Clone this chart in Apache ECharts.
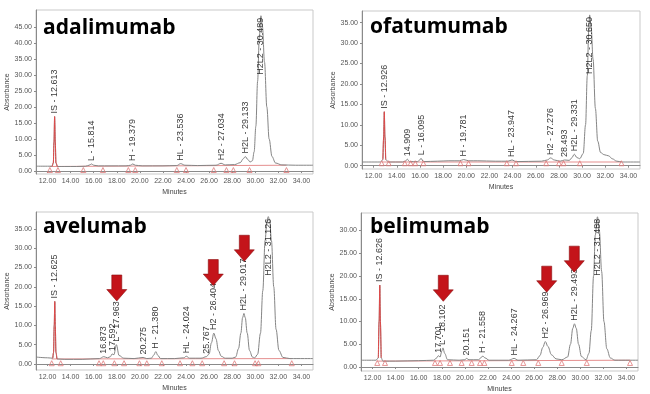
<!DOCTYPE html>
<html><head><meta charset="utf-8">
<script src="https://cdn.jsdelivr.net/npm/echarts@6/dist/echarts.min.js"></script>
<style>html,body{margin:0;padding:0;background:#fff}#c{width:650px;height:394px}</style>
</head><body><div id="c"></div>
<script>
// ---------------- DATA ----------------
const titles = ['adalimumab', 'ofatumumab', 'avelumab', 'belimumab'];
const xTicks = [12, 14, 16, 18, 20, 22, 24, 26, 28, 30, 32, 34];
const yTicks1 = [0, 5, 10, 15, 20, 25, 30, 35, 40, 45];
const yTicks2 = [0, 5, 10, 15, 20, 25, 30, 35];
const yTicks3 = [0, 5, 10, 15, 20, 25, 30, 35];
const yTicks4 = [0, 5, 10, 15, 20, 25, 30];

// chromatogram traces [minutes, absorbance]
const trace1 = [[11.0,1.5],[12.0,1.5],[12.4,1.5],[12.5,2.5],[12.56,9],[12.613,17.0],[12.67,9],[12.73,2.5],[12.85,1.4],[13.5,1.4],[14.5,1.4],[15.3,1.5],[15.6,1.8],[15.814,2.2],[16.0,1.8],[16.4,1.6],[17.5,1.6],[18.8,1.6],[19.2,1.8],[19.379,2.2],[19.6,1.8],[20.2,1.6],[22.0,1.6],[23.2,1.7],[23.536,2.3],[23.9,1.8],[25.0,1.7],[26.6,1.8],[27.034,2.4],[27.4,1.9],[28.2,2.0],[28.7,2.6],[28.95,3.8],[29.133,4.5],[29.35,3.6],[29.55,2.8],[29.75,3.2],[29.9,6],[30.05,14],[30.2,28],[30.35,42],[30.489,48.5],[30.62,45],[30.8,34],[31.0,20],[31.2,10],[31.45,4.5],[31.75,2.5],[32.3,1.9],[33.5,1.8],[35.0,1.8]];
const trace2 = [[11.0,0.9],[12.6,0.9],[12.8,1.5],[12.87,7],[12.926,13.2],[12.98,7],[13.05,1.5],[13.3,0.9],[14.5,0.9],[14.75,1.1],[14.909,1.6],[15.1,1.0],[15.8,1.0],[15.95,1.3],[16.095,1.8],[16.3,1.0],[17.5,1.1],[18.5,1.2],[19.4,1.2],[19.781,1.5],[20.2,1.2],[21.0,1.2],[22.5,1.1],[23.6,1.1],[23.947,1.4],[24.3,1.0],[26.5,1.1],[27.0,1.4],[27.276,1.9],[27.6,1.4],[28.1,1.1],[28.493,1.4],[28.9,1.3],[29.1,1.9],[29.331,2.8],[29.55,2.0],[29.8,1.7],[30.1,3],[30.3,10],[30.45,22],[30.57,33],[30.65,36.9],[30.78,34],[30.95,26],[31.15,14],[31.35,6],[31.6,3.2],[31.9,2.7],[32.3,2.4],[32.6,1.7],[33.0,1.1],[33.5,0.9],[35.0,0.9]];
const trace3 = [[11.0,1.8],[12.0,1.6],[12.45,1.5],[12.52,3],[12.58,10],[12.625,16.2],[12.67,10],[12.73,3],[12.82,1.3],[13.5,1.2],[15.0,1.2],[16.5,1.4],[16.873,1.9],[17.2,1.6],[17.45,1.9],[17.592,2.6],[17.75,2.4],[17.963,5.0],[18.2,2.2],[18.6,1.5],[19.5,1.4],[20.275,1.7],[20.6,1.4],[21.0,1.5],[21.2,2.3],[21.38,3.2],[21.56,2.2],[21.8,1.4],[23.0,1.4],[23.8,1.6],[24.024,2.0],[24.3,1.5],[25.3,1.5],[25.767,1.9],[26.0,2.6],[26.2,5.5],[26.404,8.0],[26.6,6.5],[26.8,3.5],[27.05,2.0],[27.4,1.5],[28.0,1.5],[28.3,1.8],[28.55,4],[28.75,8],[28.9,12],[29.017,13.1],[29.13,12],[29.3,8],[29.5,3.5],[29.75,1.8],[29.95,1.6],[30.2,2.5],[30.45,8],[30.65,19],[30.85,32],[31.0,37],[31.126,38.2],[31.25,37],[31.4,32],[31.6,20],[31.8,9],[32.05,3.5],[32.4,1.7],[33.0,1.4],[35.0,1.4]];
const trace4 = [[11.0,1.5],[12.3,1.5],[12.5,2],[12.57,10],[12.626,18.0],[12.68,10],[12.75,2],[12.9,1.3],[14.0,1.3],[16.0,1.4],[17.3,1.5],[17.55,2.0],[17.701,2.5],[17.85,2.2],[18.0,3.5],[18.102,4.2],[18.25,3.0],[18.5,1.6],[19.5,1.5],[20.0,1.6],[20.151,1.9],[20.35,1.6],[21.2,1.6],[21.4,2.1],[21.558,2.4],[21.75,2.0],[22.1,1.5],[23.8,1.5],[24.267,1.9],[24.6,1.5],[26.2,1.6],[26.5,2.5],[26.75,4.3],[26.969,5.6],[27.2,4.5],[27.5,2.7],[27.9,1.8],[28.4,1.6],[28.9,2.2],[29.15,5],[29.35,8.5],[29.493,9.5],[29.65,8.5],[29.85,5],[30.1,2.3],[30.5,1.6],[30.75,3],[30.95,8],[31.15,20],[31.3,29],[31.488,33.0],[31.65,30],[31.85,21],[32.05,10],[32.3,4],[32.6,2],[33.0,1.5],[35.0,1.5]];

// peak annotations
const peakNames1 = ['IS','L','H','HL','H2','H2L','H2L2'];
const peakTimes1 = [12.613,15.814,19.379,23.536,27.034,29.133,30.489];
const peakNames2 = ['IS','','L','H','HL','H2','','H2L','H2L2'];
const peakTimes2 = [12.926,14.909,16.095,19.781,23.947,27.276,28.493,29.331,30.650];
const peakNames3 = ['IS','','','L','','H','HL','','H2','H2L','H2L2'];
const peakTimes3 = [12.625,16.873,17.592,17.963,20.275,21.380,24.024,25.767,26.404,29.017,31.126];
const peakNames4 = ['IS','','L','','H','HL','H2','H2L','H2L2'];
const peakTimes4 = [12.626,17.701,18.102,20.151,21.558,24.267,26.969,29.493,31.488];

// integration marks (peak start / end)
const marks1 = [12.2,12.9,15.1,16.8,19.0,19.6,23.2,24.0,26.4,27.5,28.1,29.5,32.7];
const marks2 = [12.7,13.3,14.7,15.2,15.6,16.3,19.5,20.2,23.5,24.3,26.9,28.0,28.4,29.8,33.4];
const marks3 = [12.36,13.14,16.46,16.83,17.79,18.63,19.96,20.6,21.9,23.48,24.55,25.4,27.3,28.2,29.98,30.27,33.16];
const marks4 = [12.41,13.08,17.41,17.85,18.71,19.72,20.59,21.31,21.69,24.06,25.06,26.36,28.39,30.56,34.31];
const marksY = [0.3, 0.6, 0.2, 0.9];

// integration baselines
const base1 = [[12.2,1.4],[32.7,1.8]];
const base2 = [[12.7,0.9],[33.4,0.9]];
const base3 = [[12.36,1.3],[33.16,1.4]];
const base4 = [[12.41,1.3],[34.31,1.5]];

// highlighted peaks (arrows), [minutes, absorbance at arrow centre]
const arrows3 = [[18.0,19.7],[26.36,23.7],[29.05,30.0]];
const arrows4 = [[18.13,17.3],[27.09,19.3],[29.48,23.7]];

// ---------------- LAYOUT ----------------
const panels = [
  {title: titles[0], trace: trace1, names: peakNames1, times: peakTimes1, marks: marks1, my: marksY[0], base: base1, arrows: [], yTicks: yTicks1, ymin: -0.94, ymax: 50.3, grid: {left: 36, top: 10, width: 277, height: 164}, tl: 43, tt: 18},
  {title: titles[1], trace: trace2, names: peakNames2, times: peakTimes2, marks: marks2, my: marksY[1], base: base2, arrows: [], yTicks: yTicks2, ymin: -0.81, ymax: 37.86, grid: {left: 362, top: 11, width: 278, height: 158}, tl: 370, tt: 17},
  {title: titles[2], trace: trace3, names: peakNames3, times: peakTimes3, marks: marks3, my: marksY[2], base: base3, arrows: arrows3, yTicks: yTicks3, ymin: -1.56, ymax: 39.4, grid: {left: 36, top: 212, width: 277, height: 158}, tl: 43, tt: 217},
  {title: titles[3], trace: trace4, names: peakNames4, times: peakTimes4, marks: marks4, my: marksY[3], base: base4, arrows: arrows4, yTicks: yTicks4, ymin: -0.87, ymax: 33.84, grid: {left: 361, top: 213, width: 277, height: 160}, tl: 370, tt: 217}
];

const FONT = 'Liberation Sans, Arial, sans-serif';
const grids = [], xAxes = [], yAxes = [], series = [], titleOpts = [];
const arrowPath = 'path://M5,0 L15,0 L15,14 L20,14 L10,25 L0,14 L5,14 Z';

function apexAt(trace, t) {
  let best = trace[0], bd = Infinity;
  trace.forEach(p => { const d = Math.abs(p[0] - t); if (d < bd) { bd = d; best = p; } });
  return best[1];
}

panels.forEach((p, i) => {
  grids.push(Object.assign({show: true, borderColor: '#c9c9c9', borderWidth: 1, containLabel: false}, p.grid));
  titleOpts.push({text: p.title, left: p.tl, top: p.tt, padding: 0,
    textStyle: {fontFamily: 'Open Sans, sans-serif', fontWeight: 'bold', fontSize: 21, color: '#000'}});
  xAxes.push({type: 'value', gridIndex: i, min: 11, max: 35,
    name: 'Minutes', nameLocation: 'middle', nameGap: 15,
    nameTextStyle: {fontFamily: FONT, fontSize: 7, color: '#444'},
    axisLine: {show: true, lineStyle: {color: '#8a8a8a', width: 1}},
    axisTick: {show: true, length: 2, customValues: xTicks, lineStyle: {color: '#8a8a8a'}},
    axisLabel: {customValues: xTicks, fontFamily: FONT, fontSize: 7, color: '#555', margin: 4,
      formatter: v => v.toFixed(2)},
    splitLine: {show: false}});
  yAxes.push({type: 'value', gridIndex: i, min: p.ymin, max: p.ymax,
    name: 'Absorbance', nameLocation: 'middle', nameGap: 25, nameRotate: 90,
    nameTextStyle: {fontFamily: FONT, fontSize: 7, color: '#444'},
    axisLine: {show: true, lineStyle: {color: '#8a8a8a', width: 1}},
    axisTick: {show: true, length: 2, customValues: p.yTicks, lineStyle: {color: '#8a8a8a'}},
    axisLabel: {customValues: p.yTicks, fontFamily: FONT, fontSize: 7, color: '#555', margin: 4,
      formatter: v => v.toFixed(2)},
    splitLine: {show: false}});

  // red integration baseline
  series.push({type: 'line', xAxisIndex: i, yAxisIndex: i, data: p.base, symbol: 'none', silent: true,
    lineStyle: {color: '#e58f8f', width: 1}, z: 1});
  // main trace
  series.push({type: 'line', xAxisIndex: i, yAxisIndex: i, data: p.trace, symbol: 'none', silent: true,
    smooth: 0.35, smoothMonotone: 'x', lineStyle: {color: '#858585', width: 1}, z: 2});
  // internal standard peak in red
  const isT = p.times[0];
  const isPts = p.trace.filter(q => q[0] >= isT - 0.25 && q[0] <= isT + 0.25);
  series.push({type: 'line', xAxisIndex: i, yAxisIndex: i, data: isPts, symbol: 'none', silent: true,
    smooth: 0.35, smoothMonotone: 'x', lineStyle: {color: '#e04848', width: 1}, z: 3});
  // integration marks
  series.push({type: 'scatter', xAxisIndex: i, yAxisIndex: i, data: p.marks.map(x => [x, p.my]),
    symbol: 'triangle', symbolSize: 5, silent: true,
    itemStyle: {color: 'rgba(0,0,0,0)', borderColor: '#e07a7a', borderWidth: 0.8, opacity: 1}, z: 4});
  // peak labels
  const range = p.ymax - p.ymin;
  const lab = p.times.map((t, k) => {
    const y = apexAt(p.trace, t);
    const txt = (p.names[k] ? p.names[k] + ' - ' : '') + t.toFixed(3);
    const down = (y - p.ymin) > 0.6 * range;
    return {value: [t, y], name: txt,
      label: down ? {position: 'bottom', distance: 2, align: 'right', verticalAlign: 'middle'}
                  : {position: 'top', distance: 3, align: 'left', verticalAlign: 'middle'}};
  });
  series.push({type: 'scatter', xAxisIndex: i, yAxisIndex: i, data: lab, symbolSize: 0, silent: true,
    label: {show: true, rotate: 90, formatter: d => d.name, fontFamily: FONT, fontSize: 9, color: '#000'}, z: 5});
  // red arrows
  if (p.arrows.length) {
    series.push({type: 'scatter', xAxisIndex: i, yAxisIndex: i, data: p.arrows, symbol: arrowPath,
      symbolSize: [20, 26], silent: true,
      itemStyle: {color: '#c4141a', borderColor: '#8a0b0e', borderWidth: 0.6, opacity: 1}, z: 6});
  }
});

const chart = echarts.init(document.getElementById('c'), null, {renderer: 'canvas'});
chart.setOption({
  animation: false,
  backgroundColor: '#ffffff',
  title: titleOpts,
  grid: grids, xAxis: xAxes, yAxis: yAxes, series: series
});
</script>
</body></html>
